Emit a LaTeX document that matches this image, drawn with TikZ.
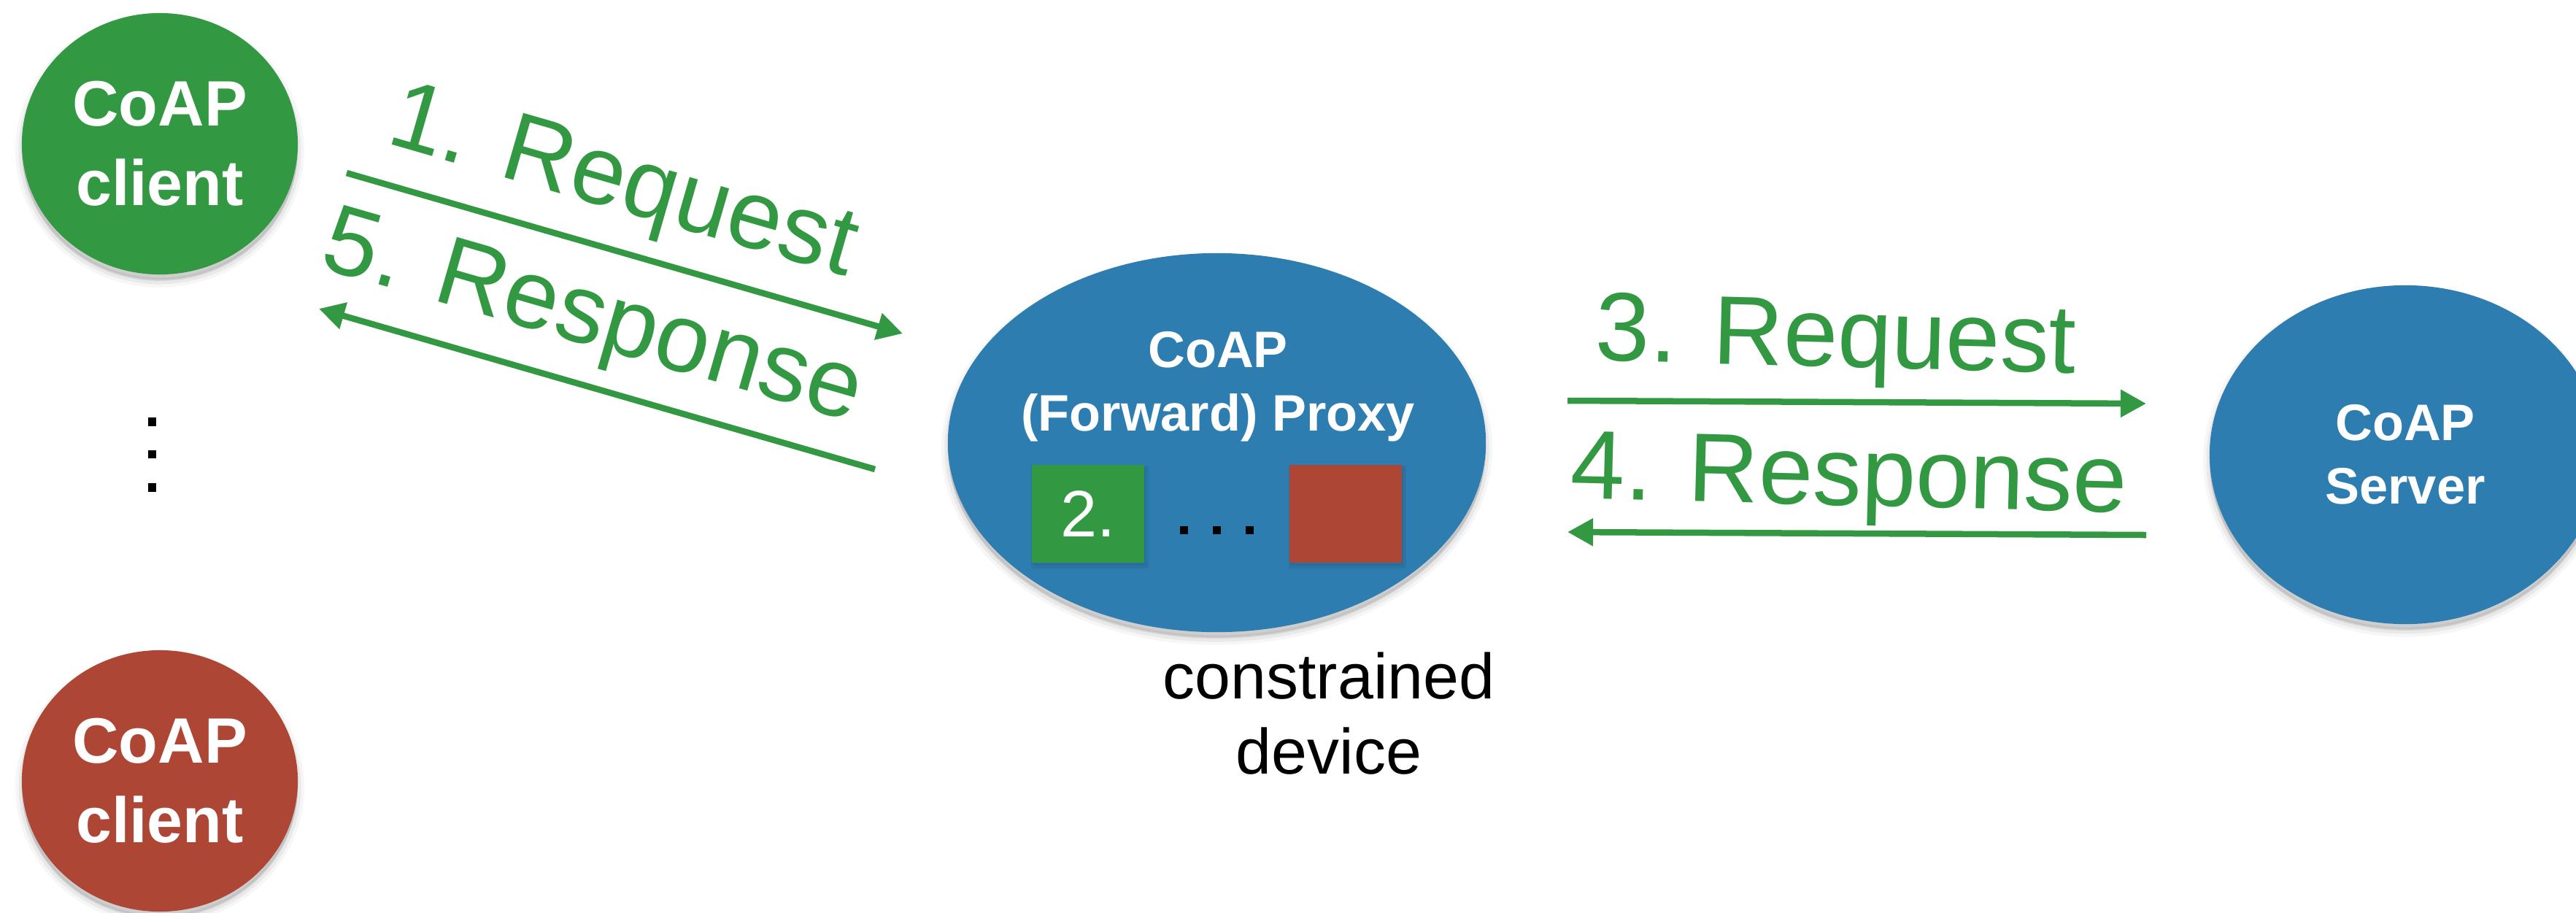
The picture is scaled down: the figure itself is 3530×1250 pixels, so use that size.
\documentclass[tikz,border=0pt]{standalone}
\usepackage{fontspec}
\setmainfont{Liberation Sans}
\usetikzlibrary{arrows.meta,shapes.geometric}

\definecolor{coapgreen}{RGB}{50,152,66}
\definecolor{coapblue}{RGB}{46,125,176}
\definecolor{coapred}{RGB}{174,70,54}

\begin{document}
\begin{tikzpicture}[x=0.01cm, y=-0.01cm,
  softshadow/.style={
    preaction={fill=black, draw=black, opacity=0.035, line width=5pt,
               transform canvas={yshift=-2.5pt}},
    preaction={fill=black, draw=black, opacity=0.05, line width=2.5pt,
               transform canvas={yshift=-2.5pt}},
    preaction={fill=black, opacity=0.08, transform canvas={yshift=-2pt}}},
  smallshadow/.style={
    preaction={fill=black, draw=black, opacity=0.06, line width=2pt,
               transform canvas={xshift=0.6pt, yshift=-1.2pt}}},
  blob/.style={ellipse, inner sep=0pt, text=white, align=center, softshadow},
  clientfont/.style={font=\bfseries\fontsize{25}{31}\selectfont},
  hostfont/.style={font=\bfseries\fontsize{20}{24.7}\selectfont},
  slot/.style={rectangle, inner sep=0pt, minimum width=1.54cm,
               minimum height=1.34cm, smallshadow},
  lbl/.style={text=coapgreen, font=\fontsize{38}{44}\selectfont, inner sep=0pt},
  flow/.style={draw=coapgreen, line width=0.085cm,
               -{Triangle[length=0.35cm,width=0.36cm]}}
]
\useasboundingbox (0,0) rectangle (3530,1250);
\fill[white] (0,0) rectangle (3530,1250);

% clients on the left
\node[blob, clientfont, fill=coapgreen, minimum width=3.78cm, minimum height=3.58cm]
  (clientA) at (219,197) {CoAP\\client};
\node[blob, clientfont, fill=coapred, minimum width=3.78cm, minimum height=3.58cm]
  (clientB) at (219,1070) {CoAP\\client};
\foreach \yy in {578,622.5,668}
  \fill[black] (208.5,\yy) +(-5.75,-5.75) rectangle +(5.75,5.75);

% proxy on the constrained device
\node[blob, fill=coapblue, minimum width=7.37cm, minimum height=5.19cm]
  (proxy) at (1667.5,606.5) {};
\node[hostfont, text=white, align=center, inner sep=0pt]
  (proxytitle) at (1669,529.5) {CoAP\\(Forward) Proxy};
\node[slot, fill=coapgreen, text=white, font=\fontsize{25.6}{30}\selectfont]
  (slotA) at (1491,704) {2.};
\node[slot, fill=coapred] (slotB) at (1844,704) {};
\foreach \xx in {1622,1667.5,1712.5}
  \fill[black] (\xx,726.5) +(-5.5,-5.5) rectangle +(5.5,5.5);
\node[align=center, inner sep=0pt, font=\fontsize{25}{29.3}\selectfont]
  (devnote) at (1821,978) {constrained\\device};

% origin server on the right
\node[blob, hostfont, fill=coapblue, minimum width=5.36cm, minimum height=4.64cm]
  (server) at (3296,623) {CoAP\\Server};

% message flow
\coordinate (r1s) at (475,237);   \coordinate (r1e) at (1237,457);
\coordinate (s5s) at (1199,643);  \coordinate (s5e) at (437,423);
\coordinate (r3s) at (2148,549);  \coordinate (r3e) at (2941,553);
\coordinate (s4s) at (2941,733);  \coordinate (s4e) at (2148,729);
\draw[flow] (r1s) -- (r1e);
\draw[flow] (s5s) -- (s5e);
\draw[flow] (r3s) -- (r3e);
\draw[flow] (s4s) -- (s4e);

\node[lbl, rotate=-16.1, anchor=base] (l1) at (843.6,287) {1. Request};
\node[lbl, rotate=-16.1, anchor=base] (l5) at (802,472) {5. Response};
\node[lbl, rotate=-1.5, anchor=base] (l3) at (2515,502.5) {3. Request};
\node[lbl, rotate=-1.5, anchor=base] (l4) at (2533,692.5) {4. Response};
\end{tikzpicture}
\end{document}
